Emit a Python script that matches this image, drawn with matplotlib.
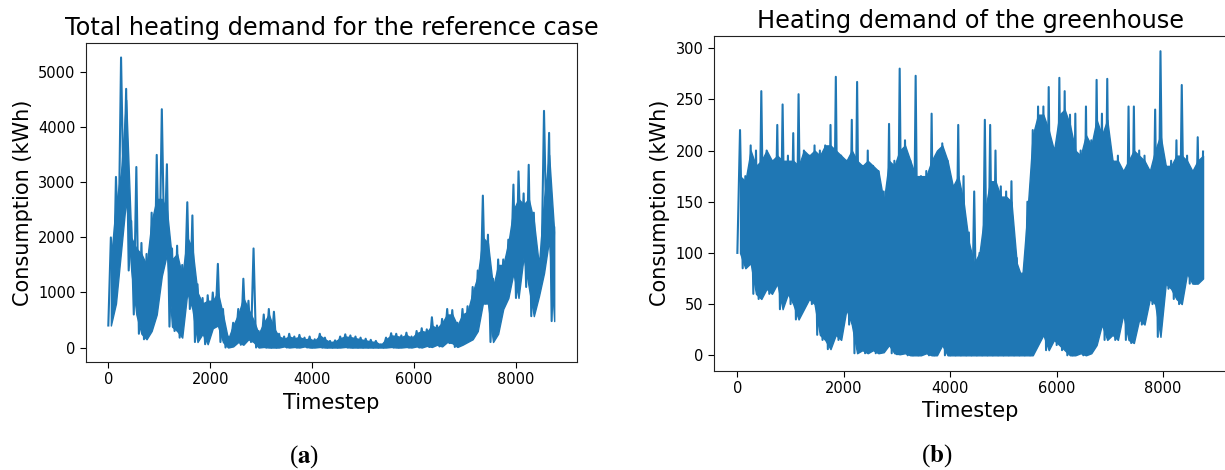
import numpy as np
import matplotlib
matplotlib.use("Agg")
import matplotlib.pyplot as plt

plt.rcParams['font.family'] = ['DejaVu Sans']

# Hourly heating demand, summarised per 100-step block:
# lowest reading, usual daily top, and highest reading of each block.
ref_lower = [400, 800, 1750, 2700, 1400, 600, 250, 150, 300, 600,
             1300, 1700, 380, 300, 180, 1000, 700, 100, 250, 60,
             350, 400, 100, 0, 20, 100, 50, 150, 100, 0,
             10, 0, 0, 0, 20, 0, 10, 0, 20, 0,
             0, 10, 0, 0, 0, 0, 10, 0, 0, 0,
             0, 0, 0, 0, 0, 10, 0, 0, 10, 0,
             20, 0, 30, 10, 50, 20, 100, 80, 10, 50,
             100, 150, 300, 800, 800, 100, 250, 700, 900, 1350,
             900, 1650, 1100, 570, 930, 1350, 1960, 480]
ref_top = [1600, 2600, 3200, 4500, 2000, 1800, 1700, 1500, 2300, 2700,
           2700, 2500, 1600, 1700, 1300, 2000, 1800, 1000, 800, 850,
           850, 1000, 600, 150, 400, 600, 900, 700, 500, 250,
           450, 600, 350, 200, 160, 200, 170, 190, 150, 160,
           120, 220, 150, 100, 110, 170, 200, 190, 170, 150,
           130, 110, 100, 50, 150, 220, 210, 190, 230, 170,
           260, 300, 280, 400, 350, 450, 600, 600, 400, 600,
           650, 1000, 1300, 2000, 1900, 1100, 1500, 1500, 1900, 2500,
           2700, 2600, 2700, 2300, 1500, 2700, 3500, 2100]
ref_upper = [2000, 3100, 5270, 4700, 2300, 3280, 1900, 1700, 2450, 3500,
             4330, 3330, 1800, 1850, 1500, 2640, 2400, 1150, 900, 950,
             1000, 1520, 700, 200, 450, 700, 1250, 850, 1800, 300,
             600, 700, 650, 250, 200, 250, 200, 230, 180, 200,
             150, 250, 180, 120, 130, 200, 240, 220, 200, 180,
             160, 140, 120, 60, 180, 260, 250, 220, 270, 200,
             300, 350, 330, 550, 400, 520, 700, 680, 450, 700,
             750, 1100, 1400, 2760, 2050, 1250, 1600, 1600, 1960, 2960,
             3200, 2800, 3320, 2450, 1600, 4300, 3900, 2180]

gh_lower = [100, 85, 90, 60, 55, 65, 60, 70, 45, 60,
            50, 35, 45, 55, 50, 20, 15, 6, 20, 15,
            45, 30, 2, 5, 2, 5, 2, 3, 10, 2,
            1, 2, 0, 0, 0, 2, 0, 0, 10, 0,
            0, 0, 0, 0, 0, 0, 0, 0, 0, 0,
            0, 0, 0, 0, 0, 0, 10, 20, 5, 15,
            10, 5, 0, 0, 2, 0, 2, 10, 30, 15,
            20, 15, 40, 15, 12, 35, 30, 55, 50, 18,
            70, 65, 55, 50, 80, 70, 70, 75]
gh_top = [175, 170, 200, 185, 190, 200, 190, 195, 190, 190,
          190, 185, 200, 195, 200, 195, 205, 205, 200, 195,
          190, 200, 190, 185, 190, 185, 180, 150, 190, 185,
          200, 205, 190, 175, 175, 175, 190, 200, 205, 190,
          165, 175, 150, 110, 90, 100, 140, 170, 170, 155,
          155, 150, 90, 75, 140, 215, 235, 235, 220, 200,
          235, 240, 225, 200, 195, 215, 205, 230, 215, 230,
          190, 190, 180, 190, 200, 195, 190, 180, 200, 215,
          185, 185, 195, 195, 190, 180, 190, 195]
gh_upper = [220, 175, 205, 200, 258, 200, 190, 225, 245, 195,
            217, 255, 200, 195, 205, 200, 205, 225, 272, 195,
            190, 230, 267, 185, 200, 185, 180, 160, 226, 190,
            280, 210, 190, 273, 175, 180, 236, 195, 207, 190,
            160, 225, 175, 120, 160, 100, 230, 225, 200, 165,
            160, 170, 95, 80, 150, 220, 243, 243, 262, 200,
            271, 258, 235, 236, 200, 243, 210, 269, 236, 270,
            190, 195, 180, 243, 243, 200, 195, 180, 240, 297,
            185, 190, 210, 264, 195, 180, 213, 199]

BLOCK = 100
LINE = '#1f77b4'


def trace(lower, upper):
    """Alternate each block's minimum and maximum along the timestep axis."""
    n = len(lower)
    t = np.empty(2 * n)
    v = np.empty(2 * n)
    t[0::2] = np.arange(n) * BLOCK
    t[1::2] = np.arange(n) * BLOCK + BLOCK / 2
    v[0::2] = lower
    v[1::2] = upper
    return t, v


fig = plt.figure(figsize=(12.25, 4.7), dpi=100)
ax1 = fig.add_axes([0.0702, 0.2298, 0.4008, 0.6787])
ax2 = fig.add_axes([0.5829, 0.2117, 0.4186, 0.7117])

panels = [
    (ax1, ref_lower, ref_top, ref_upper,
     "Total heating demand for the reference case"),
    (ax2, gh_lower, gh_top, gh_upper,
     "Heating demand of the greenhouse"),
]

for ax, lo, top, hi, title in panels:
    tc = np.arange(len(lo)) * BLOCK + BLOCK / 2
    # dense hourly oscillation fills each block's daily range
    ax.fill_between(tc, lo, top, facecolor=LINE, edgecolor=LINE, lw=1.0)
    t, v = trace(lo, hi)
    ax.plot(t, v, color=LINE, lw=1.5)
    ax.set_xlim(-438, 9197)
    ax.set_xticks([0, 2000, 4000, 6000, 8000])
    ax.set_title(title, fontsize=17.3)
    ax.set_xlabel("Timestep", fontsize=15)
    ax.set_ylabel("Consumption (kWh)", fontsize=15)
    ax.tick_params(labelsize=10.5, length=4)
    for s in ax.spines.values():
        s.set_color('#222222')

ax1.set_ylim(-263, 5533)
ax1.set_yticks([0, 1000, 2000, 3000, 4000, 5000])
ax2.set_ylim(-14.85, 311.85)
ax2.set_yticks([0, 50, 100, 150, 200, 250, 300])

fig.text(304 / 1225, 1 - 457 / 470, r'($\mathbf{a}$)', fontsize=18,
         family='Liberation Serif', math_fontfamily='stix',
         ha='center', va='center')
fig.text(937 / 1225, 1 - 456 / 470, r'($\mathbf{b}$)', fontsize=18,
         family='Liberation Serif', math_fontfamily='stix',
         ha='center', va='center')

fig.savefig("out.png", dpi=100)
